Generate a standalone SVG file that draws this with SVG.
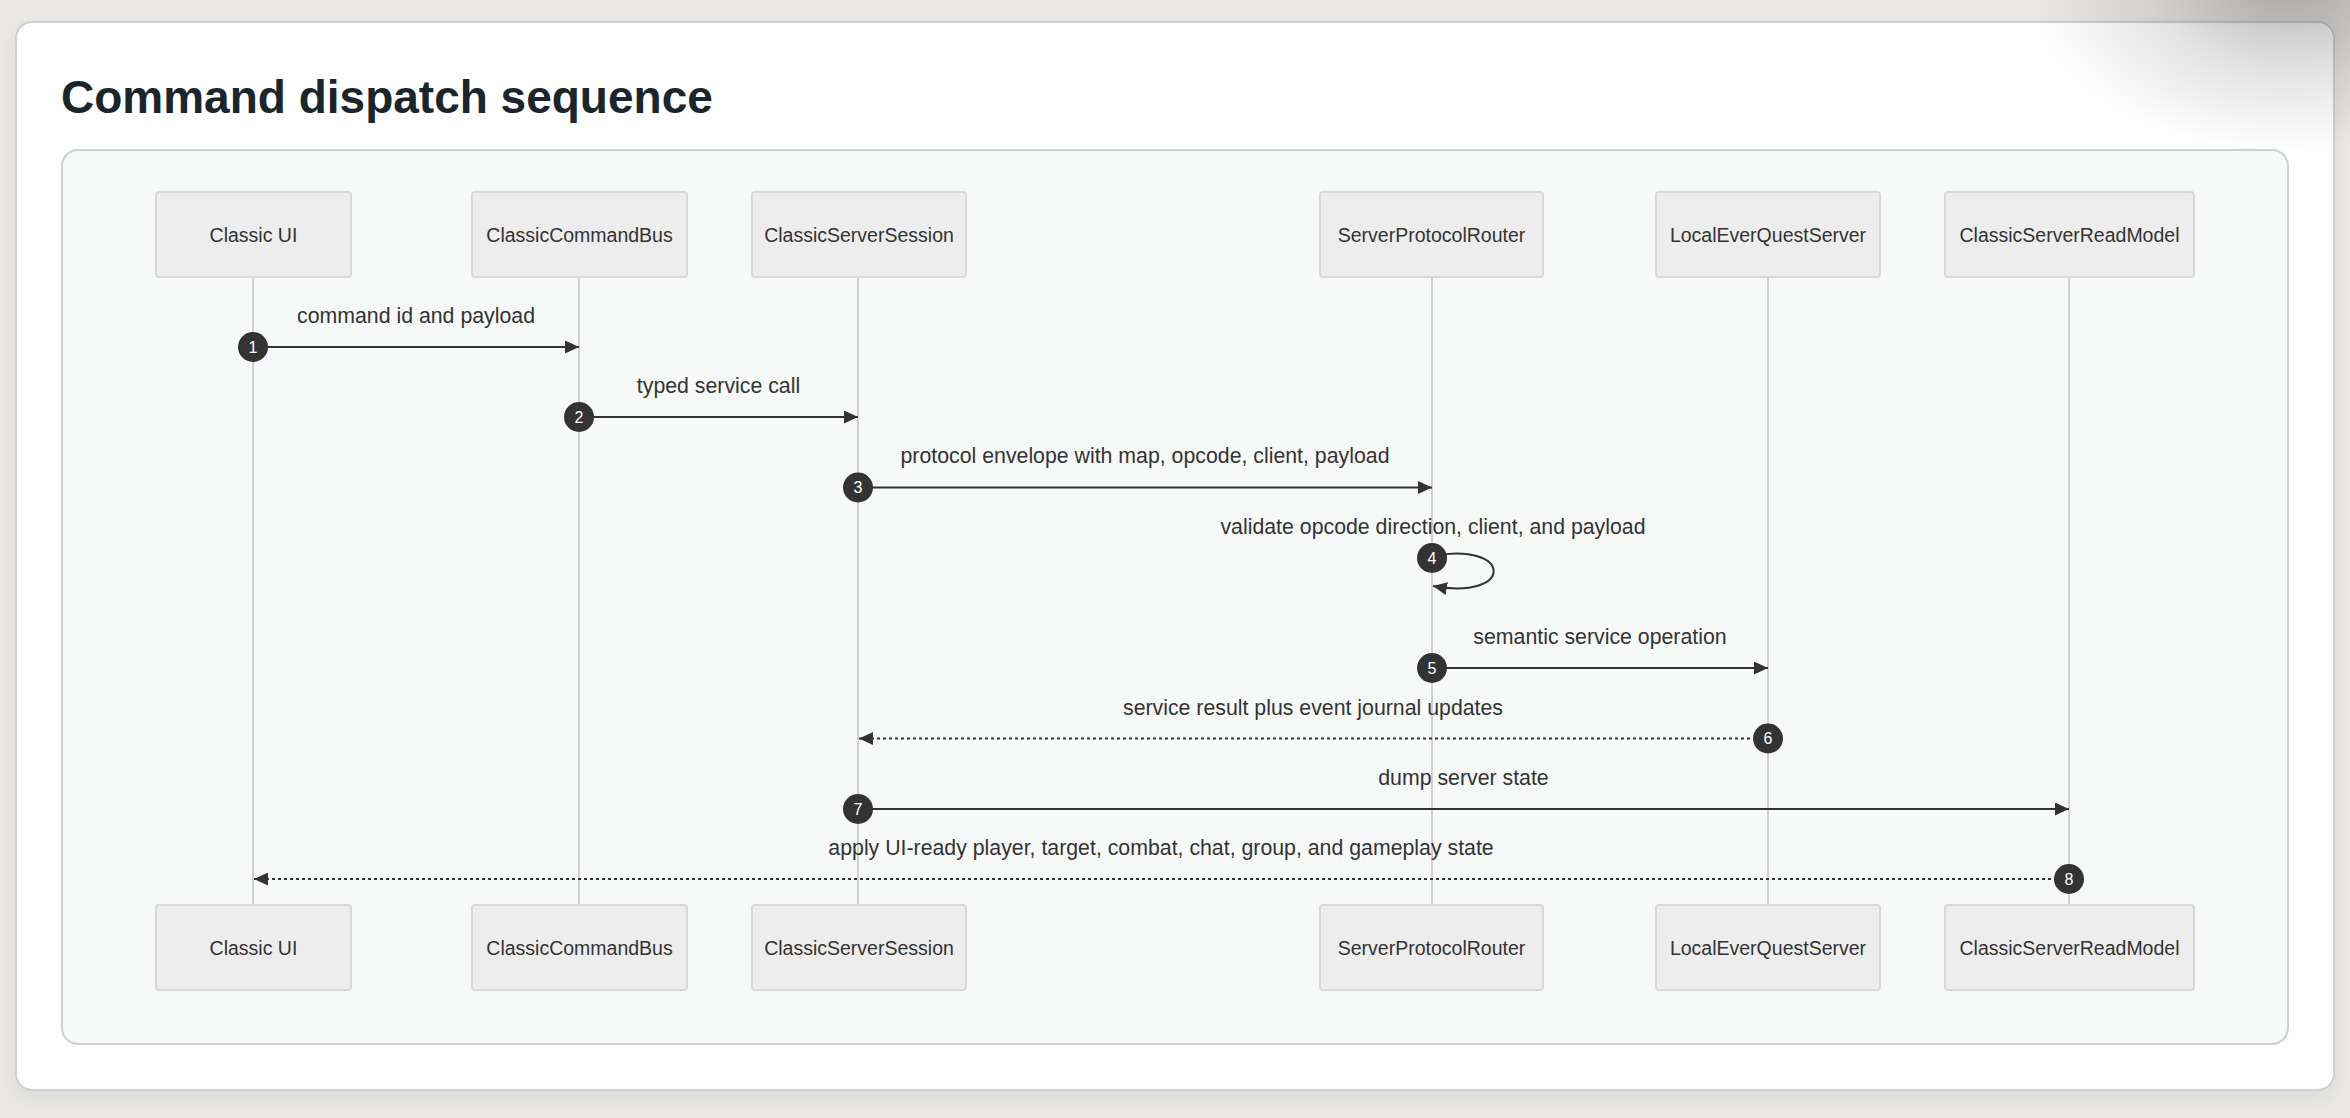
<svg xmlns="http://www.w3.org/2000/svg" width="2350" height="1118" viewBox="0 0 2350 1118">
  <style>
    .page { fill: #ebe9e4; }
    .card { fill: #fdfefd; stroke: #c9d1d6; stroke-width: 2; }
    .panel { fill: #f7f9f9; stroke: #c9d1d6; stroke-width: 2; }
    .title { font-family: "Liberation Sans", Arial, sans-serif; font-weight: bold; font-size: 46px; fill: #1b252c; }
    .actor { fill: #ededed; stroke: #d8d8d8; stroke-width: 2; }
    .actor-label { font-family: "Liberation Sans", Arial, sans-serif; font-size: 19.5px; fill: #333333; text-anchor: middle; dominant-baseline: central; }
    .lifeline { stroke: #d0d0d0; stroke-width: 2; fill: none; }
    .msg { stroke: #333333; stroke-width: 2; fill: none; }
    .msg-dotted { stroke: #333333; stroke-width: 2; fill: none; stroke-dasharray: 3 3; }
    .msg-label { font-family: "Liberation Sans", Arial, sans-serif; font-size: 21.3px; fill: #333333; text-anchor: middle; }
    .seq-dot { fill: #333333; }
    .seq-num { font-family: "Liberation Sans", Arial, sans-serif; font-size: 16px; fill: #ffffff; text-anchor: middle; dominant-baseline: central; }
  </style>
  <defs>
    <marker id="arrowhead" viewBox="0 0 14 13" refX="14" refY="6.5" markerWidth="14" markerHeight="13" markerUnits="userSpaceOnUse" orient="auto">
      <path d="M0,0 L14,6.5 L0,13 z" fill="#333333"/>
    </marker>
    <radialGradient id="cornerShade" cx="0.5" cy="0.5" r="0.5">
      <stop offset="0" stop-color="#000000" stop-opacity="0.28"/>
      <stop offset="0.55" stop-color="#000000" stop-opacity="0.1"/>
      <stop offset="1" stop-color="#000000" stop-opacity="0"/>
    </radialGradient>
    <filter id="cardShadow" x="-5%" y="-5%" width="110%" height="115%">
      <feDropShadow dx="0" dy="8" stdDeviation="10" flood-color="#000000" flood-opacity="0.07"/>
    </filter>
  </defs>

  <rect class="page" x="0" y="0" width="2350" height="1118"/>
  <rect class="card" x="16" y="22" width="2318" height="1068" rx="16" ry="16" filter="url(#cardShadow)"/>
  <ellipse cx="2290" cy="-15" rx="260" ry="165" fill="url(#cornerShade)"/>

  <text class="title" x="61" y="113">Command dispatch sequence</text>

  <rect class="panel" x="62" y="150" width="2226" height="894" rx="16" ry="16"/>

  <g id="classic-ui">
    <line class="lifeline" x1="253" y1="277" x2="253" y2="905"/>
    <rect class="actor" x="156" y="192" width="195" height="85" rx="3"/>
    <text class="actor-label" x="253.5" y="234.5">Classic UI</text>
    <rect class="actor" x="156" y="905" width="195" height="85" rx="3"/>
    <text class="actor-label" x="253.5" y="947.5">Classic UI</text>
  </g>
  <g id="classic-command-bus">
    <line class="lifeline" x1="579" y1="277" x2="579" y2="905"/>
    <rect class="actor" x="472" y="192" width="215" height="85" rx="3"/>
    <text class="actor-label" x="579.5" y="234.5">ClassicCommandBus</text>
    <rect class="actor" x="472" y="905" width="215" height="85" rx="3"/>
    <text class="actor-label" x="579.5" y="947.5">ClassicCommandBus</text>
  </g>
  <g id="classic-server-session">
    <line class="lifeline" x1="858" y1="277" x2="858" y2="905"/>
    <rect class="actor" x="752" y="192" width="214" height="85" rx="3"/>
    <text class="actor-label" x="859" y="234.5">ClassicServerSession</text>
    <rect class="actor" x="752" y="905" width="214" height="85" rx="3"/>
    <text class="actor-label" x="859" y="947.5">ClassicServerSession</text>
  </g>
  <g id="server-protocol-router">
    <line class="lifeline" x1="1432" y1="277" x2="1432" y2="905"/>
    <rect class="actor" x="1320" y="192" width="223" height="85" rx="3"/>
    <text class="actor-label" x="1431.5" y="234.5">ServerProtocolRouter</text>
    <rect class="actor" x="1320" y="905" width="223" height="85" rx="3"/>
    <text class="actor-label" x="1431.5" y="947.5">ServerProtocolRouter</text>
  </g>
  <g id="local-everquest-server">
    <line class="lifeline" x1="1768" y1="277" x2="1768" y2="905"/>
    <rect class="actor" x="1656" y="192" width="224" height="85" rx="3"/>
    <text class="actor-label" x="1768" y="234.5">LocalEverQuestServer</text>
    <rect class="actor" x="1656" y="905" width="224" height="85" rx="3"/>
    <text class="actor-label" x="1768" y="947.5">LocalEverQuestServer</text>
  </g>
  <g id="classic-server-read-model">
    <line class="lifeline" x1="2069" y1="277" x2="2069" y2="905"/>
    <rect class="actor" x="1945" y="192" width="249" height="85" rx="3"/>
    <text class="actor-label" x="2069.5" y="234.5">ClassicServerReadModel</text>
    <rect class="actor" x="1945" y="905" width="249" height="85" rx="3"/>
    <text class="actor-label" x="2069.5" y="947.5">ClassicServerReadModel</text>
  </g>

  <g id="connectors">
    <!-- 1 -->
    <text class="msg-label" x="416" y="323">command id and payload</text>
    <line class="msg" x1="253" y1="347" x2="579" y2="347" marker-end="url(#arrowhead)"/>
    <circle class="seq-dot" cx="253" cy="347" r="15"/>
    <text class="seq-num" x="253" y="347">1</text>
    <!-- 2 -->
    <text class="msg-label" x="718.5" y="393">typed service call</text>
    <line class="msg" x1="579" y1="417" x2="858" y2="417" marker-end="url(#arrowhead)"/>
    <circle class="seq-dot" cx="579" cy="417" r="15"/>
    <text class="seq-num" x="579" y="417">2</text>
    <!-- 3 -->
    <text class="msg-label" x="1145" y="463">protocol envelope with map, opcode, client, payload</text>
    <line class="msg" x1="858" y1="487.5" x2="1432" y2="487.5" marker-end="url(#arrowhead)"/>
    <circle class="seq-dot" cx="858" cy="487.5" r="15"/>
    <text class="seq-num" x="858" y="487.5">3</text>
    <!-- 4 self -->
    <text class="msg-label" x="1433" y="534">validate opcode direction, client, and payload</text>
    <path class="msg" d="M1432,556 C1514,541 1514,601 1433,586" marker-end="url(#arrowhead)"/>
    <circle class="seq-dot" cx="1432" cy="558" r="15"/>
    <text class="seq-num" x="1432" y="558">4</text>
    <!-- 5 -->
    <text class="msg-label" x="1600" y="644">semantic service operation</text>
    <line class="msg" x1="1432" y1="668" x2="1768" y2="668" marker-end="url(#arrowhead)"/>
    <circle class="seq-dot" cx="1432" cy="668" r="15"/>
    <text class="seq-num" x="1432" y="668">5</text>
    <!-- 6 -->
    <text class="msg-label" x="1313" y="714.5">service result plus event journal updates</text>
    <line class="msg-dotted" x1="1768" y1="738.5" x2="859" y2="738.5" marker-end="url(#arrowhead)"/>
    <circle class="seq-dot" cx="1768" cy="738.5" r="15"/>
    <text class="seq-num" x="1768" y="738.5">6</text>
    <!-- 7 -->
    <text class="msg-label" x="1463.5" y="785">dump server state</text>
    <line class="msg" x1="858" y1="809" x2="2069" y2="809" marker-end="url(#arrowhead)"/>
    <circle class="seq-dot" cx="858" cy="809" r="15"/>
    <text class="seq-num" x="858" y="809">7</text>
    <!-- 8 -->
    <text class="msg-label" x="1161" y="855">apply UI-ready player, target, combat, chat, group, and gameplay state</text>
    <line class="msg-dotted" x1="2069" y1="879" x2="254" y2="879" marker-end="url(#arrowhead)"/>
    <circle class="seq-dot" cx="2069" cy="879" r="15"/>
    <text class="seq-num" x="2069" y="879">8</text>
  </g>
</svg>
